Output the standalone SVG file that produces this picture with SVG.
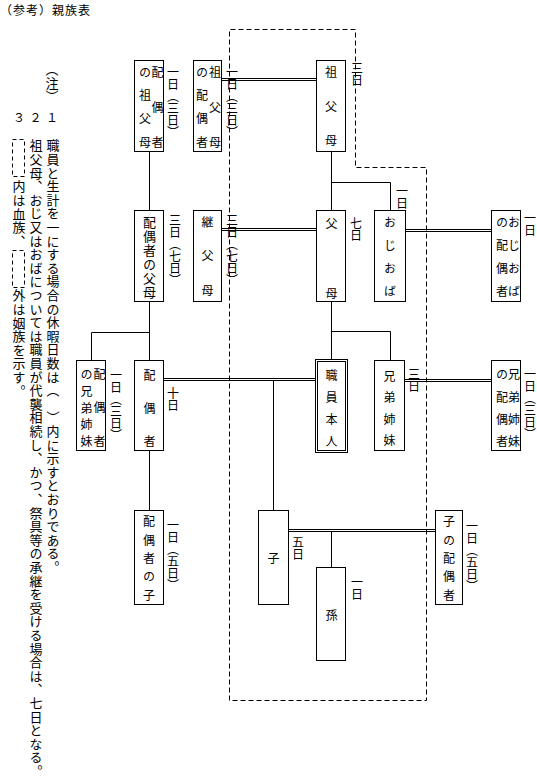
<svg xmlns="http://www.w3.org/2000/svg" width="537" height="782" viewBox="0 0 537 782">
<style>
text { font-family: "Noto Sans CJK JP", "Noto Sans CJK SC", sans-serif; fill: #000; }
.v { writing-mode: vertical-rl; }
.box { fill: #fff; stroke: #000; stroke-width: 1; }
.ln { fill: none; stroke: #000; stroke-width: 1; }
.dash { fill: none; stroke: #000; stroke-width: 1; stroke-dasharray: 5 3; }
.lab { font-size: 12px; }
.nt { font-size: 12px; }
.note { font-size: 13px; letter-spacing: 0.6px; }
.nd { fill: none; stroke: #000; stroke-width: 1; stroke-dasharray: 4 3; }
</style>
<rect width="537" height="782" fill="#fff"/>

<g id="notes">
  <text x="0" y="14.5" style="font-size:12px;letter-spacing:1px">（参考）親族表</text>
  <text class="v note" x="52" y="62.5">（注）</text>
  <text x="19" y="122" style="font-size:12px" text-anchor="middle">３</text>
  <text x="35.5" y="122" style="font-size:12px" text-anchor="middle">２</text>
  <text x="52" y="122" style="font-size:12px" text-anchor="middle">１</text>
  <text class="v note" x="53" y="139">職員と生計を一にする場合の休暇日数は（　）内に示すとおりである。</text>
  <text class="v note" x="36" y="139">祖父母、おじ又はおばについては職員が代襲相続し、かつ、祭具等の承継を受ける場合は、七日となる。</text>
  <rect class="nd" x="12.5" y="139.5" width="12" height="37"/>
  <text class="v note" x="19" y="180">内は血族、</text>
  <rect class="nd" x="12.5" y="250.5" width="12" height="37"/>
  <text class="v note" x="19" y="289">外は姻族を示す。</text>
</g>

<g id="connectors">
  <path class="dash" d="M229.5 700.5V29.5H355.5V167.5H426.5V700.5Z"/>
  <path class="ln" d="M149.5 151.5V210.5 M149.5 301.5V360.5 M91.5 360.5V332.5H149.5 M149.5 450.5V510.5 M331.5 151.5V210.5 M331.5 182.5H390.5V210.5 M331.5 301.5V359.5 M331.5 331.5H390.5V360.5 M273.5 380.5V510.5 M331.5 531.5V567.5"/>
  <path class="ln" d="M221.5 78.5H316.5 M221.5 80.5H316.5 M221.5 228.5H316.5 M221.5 230.5H316.5 M405.5 229.5H491.5 M405.5 231.5H491.5 M163.5 378.5H315.5 M163.5 380.5H315.5 M404.5 379.5H491.5 M404.5 381.5H491.5 M288.5 529.5H435.5 M288.5 531.5H435.5"/>
</g>

<g id="n-spouse-grandparents">
  <rect class="box" x="134.5" y="60.5" width="29" height="91"/>
  <text class="v nt" x="157.5" y="66 101 136">配偶者</text>
  <text class="v nt" x="145" y="66 89 112 136">の祖父母</text>
  <text class="v lab" x="173" y="66">一日（三日）</text>
</g>
<g id="n-grandparents-spouse">
  <rect class="box" x="193.5" y="60.5" width="28" height="91"/>
  <text class="v nt" x="215" y="66 101 136">祖父母</text>
  <text class="v nt" x="202" y="66 89 112 136">の配偶者</text>
  <text class="v lab" x="232" y="66">一日（三日）</text>
</g>
<g id="n-grandparents">
  <rect class="box" x="316.5" y="60.5" width="29" height="91"/>
  <text class="v nt" x="331" y="66 100 134">祖父母</text>
  <text class="v lab" x="357" y="62">三日</text>
</g>
<g id="n-spouse-parents">
  <rect class="box" x="134.5" y="210.5" width="29" height="91"/>
  <text class="v" style="font-size:13px" x="149.5" y="215.2 229.2 243.2 257.2 271.2 285.2">配偶者の父母</text>
  <text class="v lab" x="175" y="214">三日（七日）</text>
</g>
<g id="n-stepparents">
  <rect class="box" x="193.5" y="210.5" width="28" height="91"/>
  <text class="v nt" x="207.5" y="216 249 284">継父母</text>
  <text class="v lab" x="232" y="214">三日（七日）</text>
</g>
<g id="n-parents">
  <rect class="box" x="316.5" y="210.5" width="29" height="91"/>
  <text class="v nt" x="331.5" y="217 287">父母</text>
  <text class="v lab" x="356" y="217">七日</text>
</g>
<g id="n-uncle-aunt">
  <rect class="box" x="374.5" y="210.5" width="31" height="91"/>
  <text class="v nt" x="390" y="216 239 262 285">おじおば</text>
  <text class="v lab" x="402" y="185">一日</text>
</g>
<g id="n-uncle-aunt-spouse">
  <rect class="box" x="491.5" y="210.5" width="29" height="91"/>
  <text class="v nt" x="514" y="216 239 262 285">おじおば</text>
  <text class="v nt" x="502" y="216 239 262 285">の配偶者</text>
  <text class="v lab" x="530" y="212">一日</text>
</g>
<g id="n-spouse-siblings">
  <rect class="box" x="76.5" y="360.5" width="29" height="90"/>
  <text class="v nt" x="99.5" y="368 401.5 435">配偶者</text>
  <text class="v nt" x="86.5" y="368 385 402 418.5 435">の兄弟姉妹</text>
  <text class="v lab" x="116" y="369">一日（三日）</text>
</g>
<g id="n-spouse">
  <rect class="box" x="134.5" y="360.5" width="29" height="90"/>
  <text class="v nt" x="149.5" y="369 402 435.7">配偶者</text>
  <text class="v lab" x="173" y="387">十日</text>
</g>
<g id="n-self">
  <rect class="box" x="315.5" y="359.5" width="32" height="93"/>
  <rect class="box" x="317.5" y="361.5" width="28" height="89"/>
  <text class="v nt" x="331.5" y="369 391.5 413.5 435.5">職員本人</text>
</g>
<g id="n-siblings">
  <rect class="box" x="374.5" y="360.5" width="30" height="90"/>
  <text class="v nt" x="389.5" y="370 391.3 413.3 434.7">兄弟姉妹</text>
  <text class="v lab" x="414" y="368">三日</text>
</g>
<g id="n-siblings-spouse">
  <rect class="box" x="491.5" y="360.5" width="29" height="90"/>
  <text class="v nt" x="514" y="368.5 391 413 435">兄弟姉妹</text>
  <text class="v nt" x="502" y="368.5 391 413 435">の配偶者</text>
  <text class="v lab" x="530" y="368">一日（三日）</text>
</g>
<g id="n-spouse-child">
  <rect class="box" x="134.5" y="510.5" width="29" height="94"/>
  <text class="v nt" x="149" y="515.7 534 552.3 570.7 589">配偶者の子</text>
  <text class="v lab" x="173" y="519">一日（五日）</text>
</g>
<g id="n-child">
  <rect class="box" x="258.5" y="510.5" width="30" height="94"/>
  <text class="v nt" x="273.5" y="552">子</text>
  <text class="v lab" x="298" y="536">五日</text>
</g>
<g id="n-grandchild">
  <rect class="box" x="316.5" y="567.5" width="29" height="93"/>
  <text class="v nt" x="331.5" y="609">孫</text>
  <text class="v lab" x="357" y="576">一日</text>
</g>
<g id="n-child-spouse">
  <rect class="box" x="435.5" y="510.5" width="27" height="94"/>
  <text class="v nt" x="449" y="515.7 534 552.3 570.7 589">子の配偶者</text>
  <text class="v lab" x="472" y="520">一日（五日）</text>
</g>
</svg>
